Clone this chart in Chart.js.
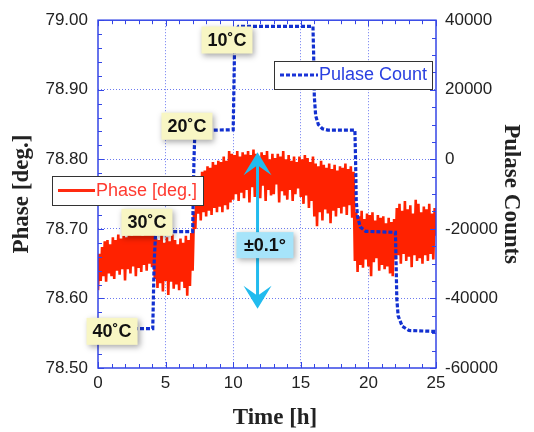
<!DOCTYPE html>
<html>
<head>
<meta charset="utf-8">
<script src="https://cdn.jsdelivr.net/npm/chart.js@4.4.1/dist/chart.umd.min.js"></script>
<style>
  html, body { margin: 0; padding: 0; background: #fff; }
  #wrap { width: 534px; height: 432px; }
</style>
</head>
<body>
<div id="wrap"><canvas id="c" width="534" height="432"></canvas></div>
<script>
// phase samples, one every 0.1 h from 0 to 25 h
const phaseStep = 0.1;
const phaseValues = [
  78.612, 78.664, 78.625, 78.674, 78.632, 78.682, 78.624, 78.684, 78.636, 78.678,
  78.632, 78.688, 78.628, 78.684, 78.640, 78.692, 78.634, 78.686, 78.642, 78.690,
  78.626, 78.688, 78.642, 78.698, 78.636, 78.690, 78.646, 78.696, 78.632, 78.692,
  78.644, 78.698, 78.638, 78.690, 78.648, 78.700, 78.640, 78.696, 78.650, 78.702,
  78.645, 78.694, 78.628, 78.686, 78.615, 78.684, 78.622, 78.692, 78.610, 78.680,
  78.625, 78.688, 78.605, 78.682, 78.624, 78.692, 78.614, 78.684, 78.620, 78.678,
  78.612, 78.686, 78.624, 78.680, 78.615, 78.690, 78.604, 78.684, 78.618, 78.694,
  78.640, 78.725, 78.700, 78.765, 78.722, 78.775, 78.712, 78.782, 78.724, 78.784,
  78.718, 78.790, 78.726, 78.788, 78.720, 78.796, 78.730, 78.792, 78.724, 78.798,
  78.732, 78.796, 78.724, 78.804, 78.734, 78.798, 78.728, 78.812, 78.738, 78.808,
  78.742, 78.806, 78.750, 78.812, 78.740, 78.804, 78.752, 78.810, 78.744, 78.807,
  78.756, 78.812, 78.738, 78.806, 78.760, 78.814, 78.746, 78.808, 78.752, 78.802,
  78.744, 78.810, 78.762, 78.806, 78.740, 78.812, 78.756, 78.800, 78.748, 78.808,
  78.750, 78.802, 78.764, 78.808, 78.738, 78.804, 78.754, 78.812, 78.748, 78.800,
  78.742, 78.806, 78.756, 78.798, 78.740, 78.804, 78.750, 78.796, 78.758, 78.804,
  78.746, 78.800, 78.736, 78.806, 78.748, 78.802, 78.730, 78.796, 78.740, 78.804,
  78.718, 78.794, 78.704, 78.790, 78.724, 78.798, 78.712, 78.792, 78.728, 78.788,
  78.722, 78.794, 78.708, 78.786, 78.726, 78.792, 78.718, 78.784, 78.730, 78.790,
  78.722, 78.788, 78.732, 78.794, 78.720, 78.786, 78.734, 78.790, 78.716, 78.782,
  78.654, 78.724, 78.638, 78.718, 78.648, 78.726, 78.644, 78.714, 78.656, 78.722,
  78.646, 78.720, 78.632, 78.724, 78.652, 78.712, 78.658, 78.720, 78.640, 78.716,
  78.648, 78.718, 78.642, 78.708, 78.646, 78.716, 78.636, 78.710, 78.632, 78.714,
  78.656, 78.730, 78.662, 78.736, 78.650, 78.726, 78.664, 78.740, 78.654, 78.728,
  78.660, 78.734, 78.645, 78.722, 78.662, 78.742, 78.654, 78.736, 78.658, 78.724,
  78.650, 78.732, 78.662, 78.728, 78.654, 78.736, 78.664, 78.722, 78.656, 78.730,
  78.690
];

// pulse counts: times [h] and values
const pulseTimes = [0, 4.05, 4.15, 4.25, 4.4, 7.0, 7.05, 7.1, 7.15, 7.3,
  10.0, 10.05, 10.1, 10.2, 10.4, 15.9, 15.95, 16.0, 16.1, 16.3, 16.6, 17.0,
  19.0, 19.05, 19.1, 19.2, 19.4, 19.8, 22.0, 22.05, 22.1, 22.2, 22.5, 23.0, 25.0];
const pulseValues = [-48700, -48700, -30000, -22000, -20800, -20800, -10000, 0, 6000, 8300,
  8500, 20000, 32000, 37000, 38200, 38200, 30000, 18000, 12500, 10000, 8800, 8400,
  8400, 0, -12000, -16500, -19500, -20700, -21000, -30000, -40000, -45000, -48000, -49200, -49500];

// temperature labels, placed in data units (time, phase)
const tempLabels = ['10˚C', '20˚C', '30˚C', '40˚C'];
const tempLabelTimes = [9.54, 6.58, 3.62, 1.04];
const tempLabelPhases = [78.9715, 78.8476, 78.7094, 78.5527];

const isMult = (v, m) => Math.abs(v / m - Math.round(v / m)) < 1e-6;

const tickFont = { family: 'Liberation Sans', size: 17 };
const titleFont = { family: 'Liberation Serif', size: 23, weight: 'bold' };
const gridBlue = '#6c7af0';

const framePlugin = {
  id: 'frame',
  afterDatasetsDraw(chart) {
    const { ctx, chartArea: a, scales } = chart;
    ctx.save();
    ctx.strokeStyle = '#3446e6';
    ctx.lineWidth = 1;
    // inward ticks
    ctx.beginPath();
    scales.x.ticks.forEach(t => {
      const px = Math.round(scales.x.getPixelForValue(t.value)) + 0.5;
      const len = isMult(t.value, 5) ? 6 : 4;
      ctx.moveTo(px, a.bottom); ctx.lineTo(px, a.bottom - len);
      ctx.moveTo(px, a.top); ctx.lineTo(px, a.top + len);
    });
    scales.y.ticks.forEach(t => {
      const py = Math.round(scales.y.getPixelForValue(t.value)) + 0.5;
      const len = isMult(t.value, 0.1) ? 6 : 4;
      ctx.moveTo(a.left, py); ctx.lineTo(a.left + len, py);
    });
    scales.y1.ticks.forEach(t => {
      const py = Math.round(scales.y1.getPixelForValue(t.value)) + 0.5;
      const len = isMult(t.value, 20000) ? 6 : 4;
      ctx.moveTo(a.right, py); ctx.lineTo(a.right - len, py);
    });
    ctx.stroke();
    ctx.lineWidth = 1.5;
    ctx.strokeRect(a.left, a.top, a.right - a.left, a.bottom - a.top);

    // x axis title
    ctx.font = 'bold 23px "Liberation Serif"';
    ctx.fillStyle = '#222';
    ctx.textAlign = 'center';
    ctx.textBaseline = 'middle';
    ctx.fillText('Time [h]', (a.left + a.right) / 2 + 8, 418);
    ctx.restore();
  }
};

function box(ctx, cx, cy, w, h, fill, shadow) {
  ctx.save();
  if (shadow) {
    ctx.shadowColor = 'rgba(0,0,0,0.35)';
    ctx.shadowBlur = 6;
    ctx.shadowOffsetX = 2;
    ctx.shadowOffsetY = 2;
  }
  ctx.fillStyle = fill;
  ctx.fillRect(cx - w / 2, cy - h / 2, w, h);
  ctx.restore();
}

const notePlugin = {
  id: 'notes',
  afterDatasetsDraw(chart) {
    const { ctx, scales } = chart;
    const x = scales.x, y = scales.y;
    ctx.save();

    // double arrow +-0.1 deg
    const ax = x.getPixelForValue(11.8);
    const top = y.getPixelForValue(78.81), bot = y.getPixelForValue(78.585);
    ctx.strokeStyle = '#22bbee';
    ctx.fillStyle = '#22bbee';
    ctx.lineWidth = 3;
    ctx.beginPath();
    ctx.moveTo(ax, top + 10); ctx.lineTo(ax, bot - 10);
    ctx.stroke();
    ctx.beginPath();
    ctx.moveTo(ax, top); ctx.lineTo(ax + 14, top + 23); ctx.lineTo(ax, top + 13); ctx.lineTo(ax - 14, top + 23);
    ctx.closePath(); ctx.fill();
    ctx.beginPath();
    ctx.moveTo(ax, bot); ctx.lineTo(ax + 14, bot - 23); ctx.lineTo(ax, bot - 13); ctx.lineTo(ax - 14, bot - 23);
    ctx.closePath(); ctx.fill();

    ctx.font = 'bold 18px "Liberation Sans"';
    ctx.textAlign = 'center';
    ctx.textBaseline = 'middle';

    const bx = x.getPixelForValue(12.35), by = y.getPixelForValue(78.6766);
    box(ctx, bx, by, 57, 26, '#a6e4fa', true);
    ctx.fillStyle = '#111';
    ctx.fillText('±0.1°', bx, by + 1);

    tempLabels.forEach((txt, i) => {
      const px = x.getPixelForValue(tempLabelTimes[i]);
      const py = y.getPixelForValue(tempLabelPhases[i]);
      box(ctx, px, py, 51, 27, '#f8f6c4', true);
      ctx.fillStyle = '#111';
      ctx.fillText(txt, px, py + 1);
    });

    // legends
    ctx.font = '18px "Liberation Sans"';
    ctx.textAlign = 'left';
    ctx.lineWidth = 1;
    ctx.fillStyle = '#fff';
    ctx.strokeStyle = '#333';
    ctx.fillRect(52, 176, 151, 29);
    ctx.strokeRect(52.5, 176.5, 151, 29);
    ctx.strokeStyle = '#ff2a10';
    ctx.lineWidth = 3;
    ctx.beginPath(); ctx.moveTo(58, 190.5); ctx.lineTo(95, 190.5); ctx.stroke();
    ctx.fillStyle = '#ff3a30';
    ctx.fillText('Phase [deg.]', 96, 191);

    ctx.lineWidth = 1;
    ctx.fillStyle = '#fff';
    ctx.strokeStyle = '#333';
    ctx.fillRect(274, 61, 158, 28);
    ctx.strokeRect(274.5, 61.5, 158, 28);
    ctx.strokeStyle = '#1a34d8';
    ctx.lineWidth = 3;
    ctx.setLineDash([4, 2]);
    ctx.beginPath(); ctx.moveTo(280, 75); ctx.lineTo(318, 75); ctx.stroke();
    ctx.setLineDash([]);
    ctx.fillStyle = '#2a40e0';
    ctx.fillText('Pulase Count', 319, 75.5);

    ctx.restore();
  }
};

const phasePoints = phaseValues.map((v, i) => ({ x: i * phaseStep, y: v }));
const pulsePoints = pulseTimes.map((t, i) => ({ x: t, y: pulseValues[i] }));

new Chart(document.getElementById('c'), {
  type: 'line',
  data: {
    datasets: [
      {
        label: 'Pulase Count',
        data: pulsePoints,
        yAxisID: 'y1',
        borderColor: '#1230d0',
        borderWidth: 3.2,
        borderDash: [4, 2],
        pointRadius: 0,
        tension: 0
      },
      {
        label: 'Phase [deg.]',
        data: phasePoints,
        yAxisID: 'y',
        borderColor: '#ff2200',
        borderWidth: 2.6,
        pointRadius: 0,
        tension: 0
      }
    ]
  },
  options: {
    responsive: false,
    animation: false,
    layout: { padding: { top: 17, left: 0, right: 0, bottom: 0 } },
    plugins: { legend: { display: false }, tooltip: { enabled: false } },
    scales: {
      x: {
        type: 'linear',
        min: 0, max: 25,
        ticks: {
          stepSize: 1, autoSkip: false, maxRotation: 0,
          font: tickFont, color: '#222', padding: 5,
          callback: v => isMult(v, 5) ? String(v) : ''
        },
        grid: {
          drawTicks: false,
          color: c => isMult(c.tick.value, 5) && c.tick.value > 0 && c.tick.value < 25 ? gridBlue : 'rgba(0,0,0,0)'
        },
        border: { display: false, dash: [1, 2] },
        title: { display: false },
        afterFit: s => { s.height = 64; }
      },
      y: {
        position: 'left',
        min: 78.5, max: 79,
        ticks: {
          stepSize: 0.02, autoSkip: false,
          font: tickFont, color: '#222', padding: 10,
          callback: v => isMult(v, 0.1) ? v.toFixed(2) : ''
        },
        grid: {
          drawTicks: false,
          color: c => isMult(c.tick.value, 0.1) && c.tick.value > 78.55 && c.tick.value < 78.95 ? gridBlue : 'rgba(0,0,0,0)'
        },
        border: { display: false, dash: [1, 2] },
        title: { display: true, text: 'Phase [deg.]', font: titleFont, color: '#222', padding: { top: 8, bottom: 8 } },
        afterFit: s => { s.width = 98; }
      },
      y1: {
        position: 'right',
        min: -60000, max: 40000,
        ticks: {
          stepSize: 5000, autoSkip: false,
          font: tickFont, color: '#222', padding: 9,
          callback: v => isMult(v, 20000) ? String(v) : ''
        },
        grid: { display: false, drawTicks: false },
        border: { display: false },
        title: { display: true, text: 'Pulase Counts', font: titleFont, color: '#222', padding: { top: 9, bottom: 8 } },
        afterFit: s => { s.width = 98; }
      }
    }
  },
  plugins: [framePlugin, notePlugin]
});
</script>
</body>
</html>
